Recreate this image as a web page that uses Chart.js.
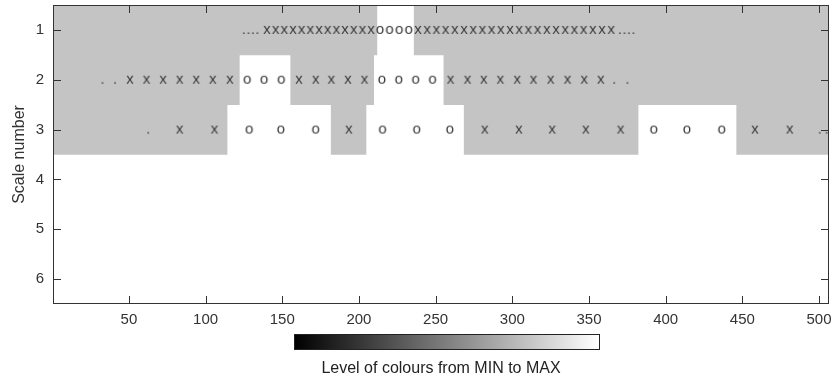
<!DOCTYPE html>
<html>
<head>
<meta charset="utf-8">
<script src="https://cdn.jsdelivr.net/npm/chart.js@4/dist/chart.umd.min.js"></script>
<style>
  body { margin: 0; background: #fff; }
  #wrap { position: relative; width: 834px; height: 383px; }
  #colorbar {
    position: absolute; left: 294px; top: 334px; width: 304px; height: 14px;
    border: 1px solid #222;
    background: linear-gradient(to right, #000, #fff);
  }
  #cblabel {
    position: absolute; left: 241px; top: 359px; width: 400px; text-align: center;
    font: 16px "Liberation Sans", Arial, sans-serif; color: #222;
  }
</style>
</head>
<body>
<div id="wrap">
  <canvas id="chart"></canvas>
  <div id="colorbar"></div>
  <div id="cblabel">Level of colours from MIN to MAX</div>
</div>
<script>
// tick labels
const xTicks = [50, 100, 150, 200, 250, 300, 350, 400, 450, 500]
const yTicks = [1, 2, 3, 4, 5, 6]

// grey parts of each scale row: [from, to]
const row1Grey = [[0.5, 211.7], [236.0, 506.5]]
const row2Grey = [[0.5, 122.0], [155.5, 209.6], [255.4, 506.5]]
const row3Grey = [[0.5, 114.0], [181.9, 204.6], [268.6, 382.0], [446.3, 506.5]]

// marks on scale 1
const row1Dots = [124.9, 127.9, 130.8, 133.7, 370.1, 373.1, 376.0, 378.9]
const row1Crosses = [140.0, 145.7, 151.3, 157.0, 162.6, 168.3, 174.0, 179.6, 185.3, 190.9, 196.6, 202.3, 207.9,
  238.5, 244.5, 250.5, 256.5, 262.5, 268.5, 274.5, 280.5, 286.5, 292.5, 298.5, 304.5,
  310.5, 316.5, 322.5, 328.5, 334.5, 340.5, 346.5, 352.5, 358.5, 364.5]
const row1Circles = [213.8, 220.0, 226.3, 232.5]

// marks on scale 2
const row2Dots = [32.7, 40.9, 366.4, 375.0]
const row2Crosses = [50.7, 61.5, 72.3, 83.1, 93.9, 104.7, 115.8, 160.9, 171.8, 182.0, 192.8, 203.6,
  259.7, 270.8, 281.4, 292.2, 303.2, 313.8, 325.0, 336.0, 346.9, 357.7]
const row2Circles = [127.2, 138.2, 149.4, 215.0, 226.0, 237.0, 248.0]

// marks on scale 3
const row3Dots = [62.5, 500.4, 504.9]
const row3Crosses = [83.1, 105.8, 193.4, 282.0, 304.3, 326.0, 347.9, 370.6, 458.2, 480.9]
const row3Circles = [128.5, 149.1, 171.8, 215.4, 237.7, 259.3, 392.3, 413.9, 436.6]

const FONT = '"Liberation Sans", Arial, sans-serif'

function glyph(ch) {
    const c = document.createElement('canvas')
    c.width = 12
    c.height = 18
    const g = c.getContext('2d')
    g.font = '15px ' + FONT
    g.fillStyle = '#3c3c3c'
    g.textAlign = 'center'
    g.textBaseline = 'middle'
    g.fillText(ch, 6, 9)
    return c
}

const toBars = (row, segs) => segs.map(s => ({ y: row, x: s }))
const toPts = (row, xs) => xs.map(v => ({ x: v, y: row }))

const marks = (label, ch, lists) => ({
    type: 'scatter',
    label,
    data: lists.flat(),
    pointStyle: glyph(ch),
    pointRadius: 3,
    order: 0
})

const boxPlugin = {
    id: 'box',
    afterDatasetsDraw(chart) {
        const { ctx, chartArea: { left, right, top, bottom }, scales: { x, y } } = chart
        ctx.save()
        ctx.strokeStyle = '#333'
        ctx.lineWidth = 1
        ctx.strokeRect(left + 0.5, top + 0.5, right - left - 1, bottom - top - 1)
        ctx.beginPath()
        xTicks.forEach(v => {
            const px = Math.round(x.getPixelForValue(v)) + 0.5
            ctx.moveTo(px, bottom); ctx.lineTo(px, bottom - 8)
            ctx.moveTo(px, top); ctx.lineTo(px, top + 8)
        })
        yTicks.forEach(v => {
            const py = Math.round(y.getPixelForValue(v)) + 0.5
            ctx.moveTo(left, py); ctx.lineTo(left + 8, py)
            ctx.moveTo(right, py); ctx.lineTo(right - 8, py)
        })
        ctx.stroke()
        ctx.restore()
    }
}

new Chart(document.getElementById('chart'), {
    type: 'bar',
    data: {
        datasets: [
            {
                label: 'grey',
                indexAxis: 'y',
                data: [...toBars(1, row1Grey), ...toBars(2, row2Grey), ...toBars(3, row3Grey)],
                backgroundColor: '#c4c4c4',
                borderWidth: 0,
                barPercentage: 1,
                categoryPercentage: 1,
                grouped: false,
                order: 1
            },
            marks('dots', '.', [toPts(1, row1Dots), toPts(2, row2Dots), toPts(3, row3Dots)]),
            marks('x', 'x', [toPts(1, row1Crosses), toPts(2, row2Crosses), toPts(3, row3Crosses)]),
            marks('o', 'o', [toPts(1, row1Circles), toPts(2, row2Circles), toPts(3, row3Circles)])
        ]
    },
    options: {
        responsive: true,
        maintainAspectRatio: false,
        animation: false,
        layout: { padding: { top: 4, right: 1, left: 0, bottom: 0 } },
        plugins: { legend: { display: false }, tooltip: { enabled: false } },
        scales: {
            x: {
                type: 'linear',
                offset: false,
                min: 0.5,
                max: 506.5,
                grid: { display: false, drawTicks: false, offset: false },
                border: { display: false },
                afterBuildTicks: s => { s.ticks = xTicks.map(v => ({ value: v })) },
                afterFit: s => { s.height = 79; s.paddingLeft = 0; s.paddingRight = 0 },
                ticks: {
                    padding: 7,
                    autoSkip: false,
                    maxRotation: 0,
                    color: '#333',
                    font: { family: FONT, size: 15 }
                }
            },
            y: {
                type: 'linear',
                offset: false,
                reverse: true,
                min: 0.5,
                max: 6.5,
                grid: { display: false, drawTicks: false, offset: false },
                border: { display: false },
                afterBuildTicks: s => { s.ticks = yTicks.map(v => ({ value: v })) },
                afterFit: s => { s.width = 53; s.paddingTop = 0; s.paddingBottom = 0 },
                ticks: {
                    padding: 9,
                    color: '#333',
                    font: { family: FONT, size: 15 }
                },
                title: {
                    display: true,
                    text: 'Scale number',
                    color: '#333',
                    padding: { top: 10, bottom: 0 },
                    font: { family: FONT, size: 16 }
                }
            }
        }
    },
    plugins: [boxPlugin]
})
</script>
</body>
</html>
